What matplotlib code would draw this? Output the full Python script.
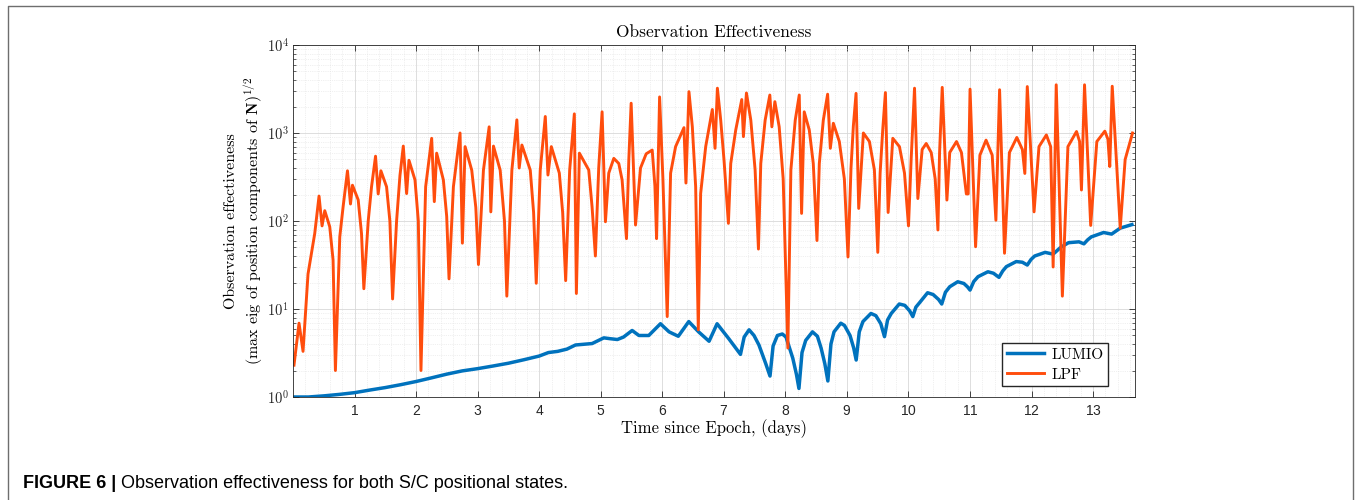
import matplotlib.pyplot as plt
import numpy as np
from matplotlib.lines import Line2D
from matplotlib.ticker import FixedLocator, FuncFormatter, LogLocator, MultipleLocator, NullFormatter

plt.rcParams["mathtext.fontset"] = "cm"
plt.rcParams["axes.formatter.use_mathtext"] = True

# LUMIO (blue)
lumio_t = [0.0, 0.25, 0.5, 0.75, 1.0, 1.25, 1.5, 1.75, 2.0, 2.25, 2.5, 2.75, 3.0,
           3.25, 3.5, 3.75, 4.0, 4.15, 4.3, 4.45, 4.59, 4.86, 5.05, 5.15, 5.27,
           5.37, 5.51, 5.62, 5.78, 5.97, 6.11, 6.26, 6.43, 6.59, 6.76, 6.89, 7.08,
           7.27, 7.33, 7.41, 7.49, 7.57, 7.68, 7.75, 7.80, 7.87, 7.95, 8.01, 8.12,
           8.18, 8.22, 8.27, 8.33, 8.44, 8.52, 8.58, 8.64, 8.69, 8.74, 8.79, 8.90,
           8.96, 9.05, 9.11, 9.15, 9.20, 9.26, 9.39, 9.47, 9.55, 9.61, 9.66, 9.72,
           9.85, 9.94, 10.02, 10.07, 10.12, 10.18, 10.31, 10.40, 10.49, 10.54, 10.60,
           10.67, 10.80, 10.90, 10.96, 11.0, 11.06, 11.13, 11.29, 11.38, 11.47,
           11.53, 11.59, 11.75, 11.85, 11.93, 11.99, 12.05, 12.22, 12.35, 12.47,
           12.6, 12.77, 12.85, 12.91, 12.97, 13.17, 13.3, 13.44, 13.63]
lumio_v = [1.0, 1.0, 1.03, 1.07, 1.12, 1.2, 1.28, 1.38, 1.5, 1.65, 1.82, 1.98, 2.1,
           2.25, 2.42, 2.65, 2.92, 3.2, 3.3, 3.5, 3.9, 4.05, 4.7, 4.6, 4.5,
           4.8, 5.7, 5.0, 5.0, 6.8, 5.5, 4.9, 7.2, 5.5, 4.3, 6.8, 4.6,
           3.05, 4.8, 5.8, 5.0, 3.9, 2.4, 1.73, 3.8, 5.0, 5.2, 4.8, 2.76,
           1.8, 1.25, 3.2, 4.4, 5.5, 4.9, 3.6, 2.4, 1.52, 4.0, 5.5, 6.9,
           6.5, 5.0, 3.6, 2.63, 5.5, 7.2, 8.9, 8.4, 6.8, 4.85, 7.5, 8.9,
           11.4, 11.0, 9.5, 8.2, 10.5, 11.8, 15.3, 14.6, 12.8, 11.4, 15.5,
           17.9, 20.4, 19.5, 17.8, 16.4, 20.5, 23.3, 26.5, 25.5, 22.9,
           27.0, 30.3, 34.6, 34.0, 31.6, 36.5, 40, 44, 42, 50,
           56.7, 58, 55, 61, 66, 74, 71, 83, 91]

# LPF (orange)
lpf_t = [0.016, 0.098, 0.163, 0.244, 0.353, 0.423, 0.472, 0.516, 0.597, 0.651,
         0.689, 0.760, 0.814, 0.885, 0.934, 0.966, 1.059, 1.113, 1.151, 1.222,
         1.276, 1.341, 1.384, 1.428, 1.520, 1.574, 1.618, 1.683, 1.738, 1.792,
         1.846, 1.884, 1.982, 2.036, 2.079, 2.155, 2.253, 2.296, 2.334, 2.443,
         2.497, 2.535, 2.606, 2.714, 2.752, 2.796, 2.904, 2.970, 3.013, 3.094,
         3.187, 3.214, 3.257, 3.366, 3.436, 3.474, 3.556, 3.637, 3.675, 3.719,
         3.855, 3.909, 3.952, 4.017, 4.099, 4.142, 4.197, 4.327, 4.381, 4.430,
         4.495, 4.571, 4.604, 4.653, 4.805, 4.859, 4.913, 4.967, 5.022, 5.076,
         5.130, 5.212, 5.293, 5.347, 5.418, 5.456, 5.494, 5.565, 5.646, 5.738,
         5.836, 5.880, 5.907, 5.956, 6.010, 6.080, 6.135, 6.216, 6.352, 6.384,
         6.433, 6.488, 6.542, 6.585, 6.623, 6.705, 6.813, 6.857, 6.895, 6.949,
         7.003, 7.074, 7.112, 7.193, 7.291, 7.318, 7.367, 7.438, 7.508, 7.562,
         7.600, 7.671, 7.747, 7.780, 7.829, 7.899, 7.964, 8.040, 8.089, 8.160,
         8.225, 8.263, 8.306, 8.388, 8.453, 8.513, 8.551, 8.616, 8.686, 8.730,
         8.779, 8.876, 8.958, 9.017, 9.066, 9.104, 9.148, 9.191, 9.267, 9.365,
         9.446, 9.501, 9.539, 9.582, 9.625, 9.669, 9.745, 9.853, 9.935, 10.000,
         10.043, 10.098, 10.152, 10.222, 10.288, 10.369, 10.434, 10.478, 10.505, 10.548,
         10.624, 10.67, 10.78, 10.86, 10.94, 10.97, 11.00, 11.09, 11.16, 11.26,
         11.36, 11.42, 11.48, 11.56, 11.64, 11.76, 11.85, 11.89, 11.93, 12.04,
         12.12, 12.24, 12.31, 12.35, 12.40, 12.50, 12.59, 12.73, 12.78, 12.81,
         12.86, 12.96, 13.06, 13.19, 13.24, 13.27, 13.31, 13.44, 13.52, 13.64]
lpf_v = [2.3, 6.9, 3.3, 25, 72, 192, 88, 131, 86, 36,
         2.0, 66, 145, 372, 156, 255, 174, 72, 17, 100,
         245, 545, 203, 372, 245, 100, 13, 100, 330, 710,
         205, 490, 293, 100, 2.0, 245, 870, 166, 590, 293,
         113, 22, 245, 1000, 56, 700, 378, 143, 32, 378,
         1175, 127, 710, 378, 100, 14, 378, 1410, 400, 730,
         378, 125, 19.6, 378, 1540, 333, 700, 350, 125, 21,
         378, 1650, 15, 590, 380, 145, 40, 400, 1740, 98,
         350, 515, 450, 293, 63, 500, 2180, 90, 400, 580,
         640, 250, 63, 2570, 300, 8.2, 350, 700, 1150, 270,
         2950, 1175, 245, 5.8, 205, 700, 1850, 670, 3230, 1400,
         490, 94, 450, 1080, 2400, 910, 2850, 1400, 380, 48,
         450, 1400, 2700, 1175, 2270, 1175, 300, 3.6, 380, 1400,
         2700, 122, 1740, 1080, 450, 60, 450, 1400, 2760, 670,
         1290, 800, 300, 39, 400, 1200, 2820, 139, 1000, 800,
         380, 44, 350, 1100, 2880, 125, 870, 700, 350, 88,
         500, 3230, 180, 650, 760, 600, 300, 79, 600, 3300,
         173, 600, 800, 600, 203, 203, 3150, 51, 560, 830,
         560, 102, 3100, 43, 600, 890, 650, 347, 3370, 127,
         700, 950, 700, 30, 3530, 14, 700, 1040, 800, 225,
         3530, 89, 800, 1050, 850, 416, 3400, 83, 500, 1000]

xticks = list(range(1, 14))
yticks = [1, 10, 100, 1000, 10000]

W, H = 1356, 500
fig = plt.figure(figsize=(W / 100, H / 100), dpi=100)
ax = fig.add_axes([293 / W, 1 - 397 / H, (1135 - 293) / W, (397 - 45) / H])

ax.plot(lumio_t, lumio_v, color="#0072BD", lw=2.5, label="LUMIO")
ax.plot(lpf_t, lpf_v, color="#FF4D0D", lw=2.1, label="LPF")

ax.set_yscale("log")
ax.set_xlim(0, 13.68)
ax.set_ylim(1, 1e4)

ax.xaxis.set_major_locator(FixedLocator(xticks))
ax.xaxis.set_minor_locator(MultipleLocator(0.2))
ax.yaxis.set_major_locator(FixedLocator(yticks))
ax.yaxis.set_minor_locator(LogLocator(base=10, subs=np.arange(2, 10)))
ax.yaxis.set_minor_formatter(NullFormatter())
ax.yaxis.set_major_formatter(FuncFormatter(lambda v, p: r"$\mathsf{10^{%d}}$" % round(np.log10(v))))

ax.grid(True, which="major", color="#d8d8d8", lw=0.6)
ax.grid(True, which="minor", color="#e2e2e2", lw=0.5, ls=":")
ax.set_axisbelow(True)

ax.tick_params(which="both", direction="in", top=True, right=True, colors="#262626")
ax.tick_params(axis="x", labelsize=10, pad=5)
ax.tick_params(axis="y", labelsize=10.5, pad=3)
ax.tick_params(which="major", length=4.5, width=0.6)
ax.tick_params(which="minor", length=2.5, width=0.5)
ax.tick_params(axis="x", which="minor", length=0)
for lab in ax.get_xticklabels():
    lab.set_fontfamily("Liberation Sans")
for s in ax.spines.values():
    s.set_color("#262626")
    s.set_linewidth(0.6)

ax.set_title("Observation Effectiveness", fontfamily="cmr10", fontsize=12.5, pad=6)
ax.set_xlabel("Time since Epoch, (days)", fontfamily="cmr10", fontsize=12)
ax.xaxis.set_label_coords(0.5, -0.062)
ax.set_ylabel("Observation effectiveness\n(max eig of position components of $\\mathbf{N}$)$^{1/2}$",
              fontfamily="cmr10", fontsize=11.5, linespacing=1.3)
ax.yaxis.set_label_coords(-0.033, 0.5)

ax.legend(loc="lower right", bbox_to_anchor=(0.968, 0.031), borderaxespad=0,
          fancybox=False, edgecolor="#262626", framealpha=1,
          prop={"family": "cmr10", "size": 11}, handlelength=2.4,
          handletextpad=0.5, borderpad=0.3, labelspacing=0.4)

# outer frame and caption
fig.add_artist(Line2D([8 / W, 8 / W, 1353 / W, 1353 / W], [0, 1 - 6 / H, 1 - 6 / H, 0],
                      transform=fig.transFigure, color="#6e6e6e", lw=1.0))
t1 = fig.text(23 / W, 1 - 488 / H, "FIGURE 6 |", fontfamily="Liberation Sans",
              fontweight="bold", fontsize=13, va="baseline")
ax.annotate(" Observation effectiveness for both S/C positional states.",
            xy=(1, 0), xycoords=t1, va="bottom", ha="left",
            fontfamily="Liberation Sans", fontsize=13, annotation_clip=False)

fig.savefig("out.png", dpi=100)
